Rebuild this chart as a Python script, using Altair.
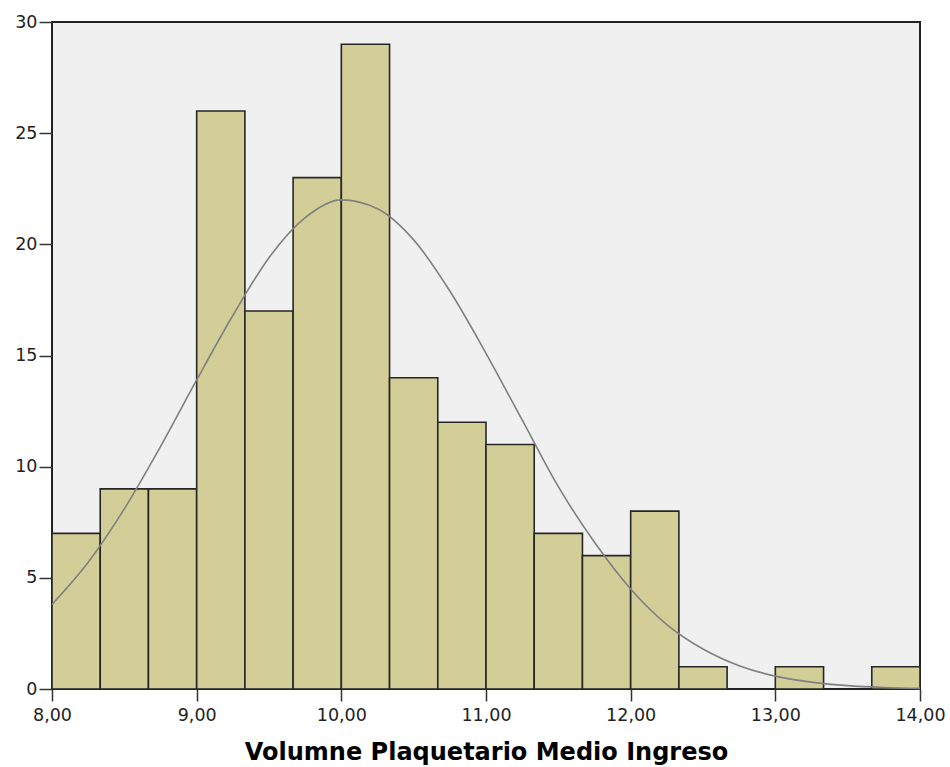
import altair as alt
import pandas as pd

# Histogram counts (bins of width 1/3 from 8.00 to 14.00)
bin_start = 8.0
bin_width = 1.0 / 3.0
counts = [7, 9, 9, 26, 17, 23, 29, 14, 12, 11, 7, 6, 8, 1, 0, 1, 0, 1]

# Normal curve
curve_x = [8.00, 8.25, 8.50, 8.75, 9.00, 9.25, 9.50, 9.75, 10.00, 10.25, 10.50,
           10.75, 11.00, 11.25, 11.50, 11.75, 12.00, 12.25, 12.50, 12.75, 13.00,
           13.25, 13.50, 13.75, 14.00]
curve_y = [3.8, 5.7, 8.1, 10.9, 13.9, 16.8, 19.4, 21.2, 22.0, 21.6, 20.2,
           17.9, 15.1, 12.1, 9.1, 6.6, 4.5, 2.9, 1.8, 1.05, 0.58,
           0.31, 0.15, 0.07, 0.03]

x_ticks = [8, 9, 10, 11, 12, 13, 14]
y_ticks = [0, 5, 10, 15, 20, 25, 30]

bars_df = pd.DataFrame({
    "lo": [bin_start + i * bin_width for i in range(len(counts))],
    "hi": [bin_start + (i + 1) * bin_width for i in range(len(counts))],
    "count": counts,
})
bars_df = bars_df[bars_df["count"] > 0]
curve_df = pd.DataFrame({"x": curve_x, "y": curve_y})

tick_font = "DejaVu Sans"
x_scale = alt.Scale(domain=[8, 14], nice=False, zero=False)
y_scale = alt.Scale(domain=[0, 30], nice=False)

bars = alt.Chart(bars_df).mark_rect(
    fill="#D3CE97", stroke="#262626", strokeWidth=1.6
).encode(
    x=alt.X("lo:Q", scale=x_scale, axis=alt.Axis(
        values=x_ticks,
        labelExpr="replace(format(datum.value, '.2f'), '.', ',')",
        title="Volumne Plaquetario Medio Ingreso",
        titleFont="DejaVu Sans", titleFontSize=24, titleFontWeight="bold",
        titleColor="#000000", titlePadding=17,
        labelFont=tick_font, labelFontSize=17.5, labelColor="#222222",
        labelPadding=5, tickSize=12, tickColor="#333333", tickWidth=1.5,
        domain=False, grid=False, labelFlush=False,
    )),
    x2="hi:Q",
    y=alt.Y("count:Q", scale=y_scale, axis=alt.Axis(
        values=y_ticks, title=None,
        labelFont=tick_font, labelFontSize=17.5, labelColor="#222222",
        labelPadding=2, tickSize=13, tickColor="#333333", tickWidth=1.5,
        domain=False, grid=False,
    )),
    y2=alt.datum(0),
)

curve = alt.Chart(curve_df).mark_line(
    color="#808080", strokeWidth=1.6, interpolate="monotone"
).encode(
    x=alt.X("x:Q", scale=x_scale),
    y=alt.Y("y:Q", scale=y_scale),
)

chart = alt.layer(bars, curve).properties(
    width=868, height=667,
    autosize=alt.AutoSizeParams(type="none"),
    padding={"left": 52, "top": 22, "right": 30, "bottom": 78},
    background="#FFFFFF",
).configure_view(
    fill="#F0F0F0", stroke="#222222", strokeWidth=2
)

chart.save("out.html", embed_options={"renderer": "svg", "actions": False})
